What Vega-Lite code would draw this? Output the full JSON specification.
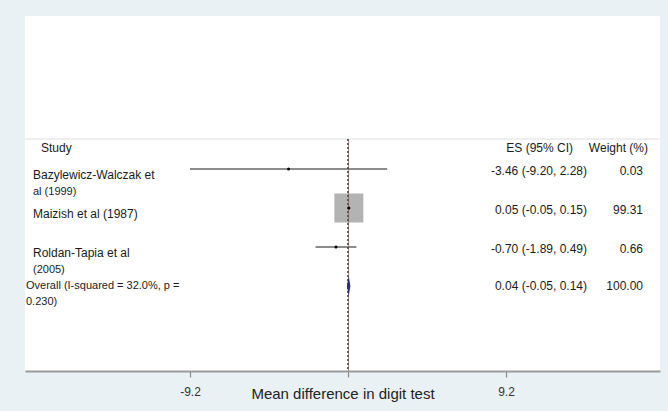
{
  "$schema": "https://vega.github.io/schema/vega-lite/v6.json",
  "width": 635,
  "height": 355,
  "autosize": {"type": "none"},
  "padding": {"left": 25, "top": 16, "right": 8, "bottom": 40},
  "background": "#e9f1f4",
  "view": {"fill": "white", "stroke": null},
  "config": {"font": "Liberation Sans", "text": {"font": "Liberation Sans"}},
  "datasets": {
    "studies": [
      {"study": "Bazylewicz-Walczak et", "study2": "al (1999)", "row": 1, "es": -3.46, "lo": -9.20, "hi": 2.28, "esci": "-3.46 (-9.20, 2.28)", "weight": "0.03", "w": 0.03},
      {"study": "Maizish et al (1987)", "study2": "", "row": 2, "es": 0.05, "lo": -0.05, "hi": 0.15, "esci": "0.05 (-0.05, 0.15)", "weight": "99.31", "w": 99.31},
      {"study": "Roldan-Tapia et al", "study2": "(2005)", "row": 3, "es": -0.70, "lo": -1.89, "hi": 0.49, "esci": "-0.70 (-1.89, 0.49)", "weight": "0.66", "w": 0.66}
    ],
    "overall": [
      {"study": "Overall (I-squared = 32.0%, p =", "study2": "0.230)", "row": 4, "es": 0.04, "lo": -0.05, "hi": 0.14, "esci": "0.04 (-0.05, 0.14)", "weight": "100.00"}
    ]
  },
  "layer": [
    {
      "data": {"name": "studies"},
      "mark": {"type": "rule", "color": "#ececec", "strokeWidth": 1},
      "encoding": {
        "y": {"datum": 0.231, "type": "quantitative", "scale": {"domain": [-2.923, 6.179], "reverse": true, "nice": false, "zero": false}, "axis": null}
      }
    },
    {
      "data": {"name": "studies"},
      "mark": {"type": "rule", "color": "#666666", "strokeWidth": 1.3},
      "encoding": {
        "x": {
          "field": "lo", "type": "quantitative",
          "scale": {"domain": [-18.807, 18.167], "nice": false, "zero": false},
          "axis": {
            "values": [-9.2, 0, 9.2],
            "labelExpr": "datum.value == 0 ? '' : (datum.value < 0 ? '-' : '') + format(abs(datum.value), '.1f')",
            "title": "Mean difference in digit test",
            "grid": false,
            "domainColor": "#9a9a9a",
            "domainWidth": 2,
            "tickColor": "#8a8a8a",
            "tickSize": 6,
            "tickWidth": 1.2,
            "labelFontSize": 12,
            "labelColor": "#333333",
            "labelPadding": 9,
            "titleFontSize": 15,
            "titleFontWeight": "normal",
            "titleColor": "#222222",
            "titleY": 22,
            "titleBaseline": "middle"
          }
        },
        "x2": {"field": "hi"},
        "y": {"field": "row", "type": "quantitative", "scale": {"domain": [-2.923, 6.179], "reverse": true, "nice": false, "zero": false}, "axis": null}
      }
    },
    {
      "data": {"name": "studies"},
      "mark": {"type": "point", "shape": "square", "filled": true, "color": "#b3b3b3", "opacity": 1},
      "encoding": {
        "x": {"field": "es", "type": "quantitative"},
        "y": {"field": "row", "type": "quantitative"},
        "size": {"field": "w", "type": "quantitative", "scale": {"domain": [0, 100], "range": [0, 847]}, "legend": null}
      }
    },
    {
      "data": {"name": "studies"},
      "mark": {"type": "rule", "color": "#555555", "strokeWidth": 1.2, "strokeDash": [2, 2]},
      "encoding": {
        "x": {"datum": 0, "type": "quantitative"},
        "y": {"datum": 0.231, "type": "quantitative"},
        "y2": {"datum": 6.179}
      }
    },
    {
      "data": {"name": "overall"},
      "mark": {"type": "rule", "color": "#a05050", "strokeWidth": 1, "strokeDash": [2, 2], "strokeDashOffset": 2, "opacity": 0.8},
      "encoding": {
        "x": {"field": "es", "type": "quantitative"},
        "y": {"datum": 0.231, "type": "quantitative"},
        "y2": {"datum": 6.179}
      }
    },
    {
      "data": {"name": "studies"},
      "mark": {"type": "point", "shape": "circle", "filled": true, "color": "#000000", "size": 9, "opacity": 1},
      "encoding": {
        "x": {"field": "es", "type": "quantitative"},
        "y": {"field": "row", "type": "quantitative"}
      }
    },
    {
      "data": {"name": "overall"},
      "mark": {"type": "point", "shape": "M -0.17 0 L 0 -1 L 0.17 0 L 0 1 Z", "filled": true, "color": "#2b2b6b", "size": 400, "opacity": 1},
      "encoding": {
        "x": {"field": "es", "type": "quantitative"},
        "y": {"field": "row", "type": "quantitative"}
      }
    },
    {
      "data": {"name": "studies"},
      "mark": {"type": "text", "align": "left", "baseline": "middle", "fontSize": 12, "color": "#1a1a1a", "dy": 6},
      "encoding": {
        "x": {"datum": -18.342, "type": "quantitative"},
        "y": {"field": "row", "type": "quantitative"},
        "text": {"field": "study"}
      }
    },
    {
      "data": {"name": "studies"},
      "mark": {"type": "text", "align": "left", "baseline": "middle", "fontSize": 11, "color": "#1a1a1a", "dy": 23},
      "encoding": {
        "x": {"datum": -18.342, "type": "quantitative"},
        "y": {"field": "row", "type": "quantitative"},
        "text": {"field": "study2"}
      }
    },
    {
      "data": {"name": "overall"},
      "mark": {"type": "text", "align": "left", "baseline": "middle", "fontSize": 11, "color": "#1a1a1a", "dy": 0},
      "encoding": {
        "x": {"datum": -18.749, "type": "quantitative"},
        "y": {"field": "row", "type": "quantitative"},
        "text": {"field": "study"}
      }
    },
    {
      "data": {"name": "overall"},
      "mark": {"type": "text", "align": "left", "baseline": "middle", "fontSize": 11, "color": "#1a1a1a", "dy": 16},
      "encoding": {
        "x": {"datum": -18.749, "type": "quantitative"},
        "y": {"field": "row", "type": "quantitative"},
        "text": {"field": "study2"}
      }
    },
    {
      "data": {"name": "studies"},
      "mark": {"type": "text", "align": "right", "baseline": "middle", "fontSize": 12, "color": "#1a1a1a", "dy": 2},
      "encoding": {
        "x": {"datum": 13.917, "type": "quantitative"},
        "y": {"field": "row", "type": "quantitative"},
        "text": {"field": "esci"}
      }
    },
    {
      "data": {"name": "studies"},
      "mark": {"type": "text", "align": "right", "baseline": "middle", "fontSize": 12, "color": "#1a1a1a", "dy": 2},
      "encoding": {
        "x": {"datum": 17.177, "type": "quantitative"},
        "y": {"field": "row", "type": "quantitative"},
        "text": {"field": "weight"}
      }
    },
    {
      "data": {"name": "overall"},
      "mark": {"type": "text", "align": "right", "baseline": "middle", "fontSize": 12, "color": "#1a1a1a", "dy": 0},
      "encoding": {
        "x": {"datum": 13.917, "type": "quantitative"},
        "y": {"field": "row", "type": "quantitative"},
        "text": {"field": "esci"}
      }
    },
    {
      "data": {"name": "overall"},
      "mark": {"type": "text", "align": "right", "baseline": "middle", "fontSize": 12, "color": "#1a1a1a", "dy": 0},
      "encoding": {
        "x": {"datum": 17.177, "type": "quantitative"},
        "y": {"field": "row", "type": "quantitative"},
        "text": {"field": "weight"}
      }
    },
    {
      "data": {"name": "overall"},
      "mark": {"type": "text", "align": "left", "baseline": "middle", "fontSize": 12, "color": "#1a1a1a", "text": "Study"},
      "encoding": {
        "x": {"datum": -17.876, "type": "quantitative"},
        "y": {"datum": 0.4615, "type": "quantitative"}
      }
    },
    {
      "data": {"name": "overall"},
      "mark": {"type": "text", "align": "right", "baseline": "middle", "fontSize": 12, "color": "#1a1a1a", "text": "ES (95% CI)"},
      "encoding": {
        "x": {"datum": 13.101, "type": "quantitative"},
        "y": {"datum": 0.4615, "type": "quantitative"}
      }
    },
    {
      "data": {"name": "overall"},
      "mark": {"type": "text", "align": "right", "baseline": "middle", "fontSize": 12, "color": "#1a1a1a", "text": "Weight (%)"},
      "encoding": {
        "x": {"datum": 17.468, "type": "quantitative"},
        "y": {"datum": 0.4615, "type": "quantitative"}
      }
    }
  ]
}
